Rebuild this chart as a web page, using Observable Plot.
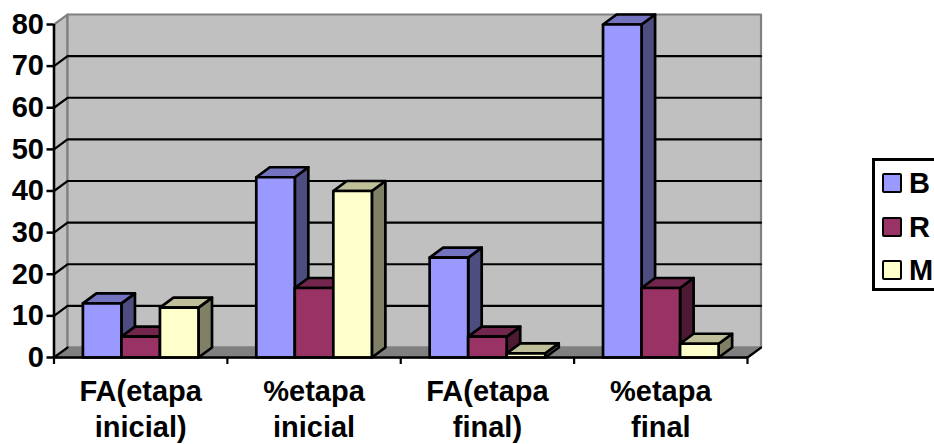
<!DOCTYPE html>
<html><head><meta charset="utf-8">
<script src="https://cdn.jsdelivr.net/npm/d3@7"></script>
<script src="https://cdn.jsdelivr.net/npm/@observablehq/plot@0.6"></script>
<style>
html,body{margin:0;padding:0;background:#fff;overflow:hidden;width:934px;height:444px}
#chart{position:absolute;left:0;top:0}
#legend{position:absolute;left:872px;top:158px;width:62px;height:133px;box-sizing:border-box;border:3px solid #000;border-right:none;font:bold 29px "Liberation Sans",Arial,sans-serif;color:#000}
.item{position:absolute;left:7px;display:flex;align-items:center;height:20px;line-height:20px}
.sw{display:inline-block;width:20px;height:20px;box-sizing:border-box;border:2.5px solid #000;border-radius:2px;margin-right:7px}
</style></head><body>
<div id="chart"></div><div id="legend"></div>
<script>
const categories = ["FA(etapa\ninicial)", "%etapa\ninicial", "FA(etapa\nfinal)", "%etapa\nfinal"];
const seriesNames = ["B", "R", "M"];
const valuesB = [13, 43.3, 24, 80];
const valuesR = [5, 16.7, 5, 16.7];
const valuesM = [12, 40, 1, 3.3];
const frontColors = ["#9999ff", "#993366", "#ffffcc"];
const sideColors = ["#4d4d80", "#4d1a33", "#808066"];
const topColors = ["#7373bf", "#73264d", "#bfbf99"];
const yTicks = [0, 10, 20, 30, 40, 50, 60, 70, 80];

const allValues = [valuesB, valuesR, valuesM];
// depth of the 3-D box, in data units of the x and y scales
const dx = 0.078, dy = 2.4;
const barW = 1 / 4.5, sideGap = barW * 0.75;

const bars = [];
categories.forEach((c, i) => allValues.forEach((vals, s) => {
  const x0 = i + sideGap + s * barW, x1 = x0 + barW, v = vals[i];
  const poly = (id, fill, pts) => pts.forEach(([x, y]) => bars.push({id: `${i}-${s}-${id}`, fill, x, y}));
  poly("side", sideColors[s], [[x1, 0], [x1 + dx, dy], [x1 + dx, v + dy], [x1, v]]);
  poly("top", topColors[s], [[x0, v], [x0 + dx, v + dy], [x1 + dx, v + dy], [x1, v]]);
  poly("front", frontColors[s], [[x0, 0], [x1, 0], [x1, v], [x0, v]]);
}));

const n = categories.length, yMax = 80;
const wall = (id, fill, pts) => pts.map(([x, y]) => ({id, fill, x, y}));
const walls = [
  ...wall("side", "#c0c0c0", [[0, 0], [dx, dy], [dx, yMax + dy], [0, yMax]]),
  ...wall("back", "#c0c0c0", [[dx, dy], [n + dx, dy], [n + dx, yMax + dy], [dx, yMax + dy]]),
  ...wall("floor", "#808080", [[0, 0], [dx, dy], [n + dx, dy], [n, 0]])
];
const grid = yTicks.filter(t => t > 0 && t < yMax).flatMap(t => [
  {t, x: 0, y: t}, {t, x: dx, y: t + dy}, {t, x: n + dx, y: t + dy}
]);
const font = '"Liberation Sans",Arial,sans-serif';

const plot = Plot.plot({
  width: 934, height: 444,
  marginLeft: 53.5, marginRight: 187, marginTop: 24, marginBottom: 87,
  x: {domain: [0, n], axis: null},
  y: {domain: [0, yMax], axis: null},
  color: {type: "identity"},
  style: {fontFamily: font, fontWeight: "bold", fontSize: "29px", color: "#000", background: "transparent"},
  marks: [
    Plot.line(walls, {x: "x", y: "y", z: "id", fill: "fill", stroke: "#808080", strokeWidth: 2.2, curve: "linear-closed"}),
    Plot.line(grid, {x: "x", y: "y", z: "t", stroke: "#000", strokeWidth: 2.2}),
    Plot.line([{x: 0, y: 0}, {x: dx, y: dy}], {x: "x", y: "y", stroke: "#000", strokeWidth: 2.2}),
    Plot.line([{x: n, y: 0}, {x: n + dx, y: dy}], {x: "x", y: "y", stroke: "#000", strokeWidth: 2.2}),
    Plot.ruleX([0], {y1: 0, y2: yMax, stroke: "#000", strokeWidth: 2.5}),
    Plot.line(bars, {x: "x", y: "y", z: "id", fill: "fill", stroke: "#000", strokeWidth: 2.7, curve: "linear-closed", strokeLinejoin: "round"}),
    Plot.ruleY([0], {x1: 0, x2: n, stroke: "#000", strokeWidth: 2.7}),
    Plot.axisY({ticks: yTicks, tickSize: 7, tickPadding: 3, strokeWidth: 2.5, stroke: "#000", label: null, fontSize: 29, fontWeight: "bold", tickFormat: d => String(d)}),
    Plot.axisX({ticks: d3.range(n + 1), tickSize: 7, stroke: "#000", strokeWidth: 2.2, tickFormat: () => "", label: null}),
    Plot.text(categories, {x: (d, i) => i + 0.5, y: 0, text: d => d, lineAnchor: "top", dy: 18, lineHeight: 1.24, fontSize: 29, fontWeight: "bold", fill: "#000"})
  ]
});
document.getElementById("chart").append(plot);

const legend = document.getElementById("legend");
seriesNames.forEach((name, i) => {
  const it = document.createElement("div");
  it.className = "item";
  it.style.top = (12 + i * 43.5) + "px";
  it.innerHTML = `<span class="sw" style="background:${frontColors[i]}"></span>${name}`;
  legend.append(it);
});
</script>
</body></html>
